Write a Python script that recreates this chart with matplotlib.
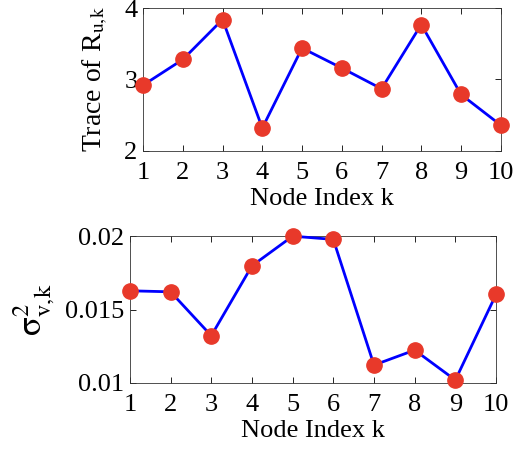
import matplotlib
matplotlib.use("Agg")
import matplotlib.pyplot as plt

nodes = [1, 2, 3, 4, 5, 6, 7, 8, 9, 10]
trace_ru = [2.92, 3.28, 3.84, 2.32, 3.44, 3.16, 2.87, 3.77, 2.79, 2.36]
sigma_v = [0.01628, 0.01621, 0.01322, 0.01798, 0.0200, 0.01978, 0.01122, 0.01224, 0.0102, 0.01603]

plt.rcParams['font.family'] = ['Liberation Serif', 'DejaVu Serif']
plt.rcParams['mathtext.fontset'] = 'stix'

fig = plt.figure(figsize=(5.26, 4.49), dpi=100)
ax1 = fig.add_axes([0.272, 0.664, 0.680, 0.318])
ax2 = fig.add_axes([0.247, 0.147, 0.696, 0.327])

line_kw = dict(color='#0000ff', linewidth=2.0, marker='o', markersize=11,
               markerfacecolor='#e8392a', markeredgecolor='#e8392a', clip_on=False, zorder=3)

ax1.plot(nodes, trace_ru, **line_kw)
ax1.set_xlim(1, 10)
ax1.set_ylim(2, 4)
ax1.set_yticks([2, 3, 4])
ax1.set_xticks(nodes)
ax1.set_xlabel('Node Index k', fontsize=19, labelpad=3)
ax1.set_ylabel(r'Trace of R$_{\mathrm{u},\!\mathrm{k}}$', fontsize=20, labelpad=10)

ax2.plot(nodes, sigma_v, **line_kw)
ax2.set_xlim(1, 10)
ax2.set_ylim(0.01, 0.02)
ax2.set_yticks([0.01, 0.015, 0.02])
ax2.set_yticklabels(['0.01', '0.015', '0.02'])
ax2.set_xticks(nodes)
ax2.set_xlabel('Node Index k', fontsize=19, labelpad=3)
ax2.set_ylabel(r'$\mathrm{\sigma}^2_{\mathrm{v},\!\mathrm{k}}$', fontsize=25, labelpad=6)

for ax in (ax1, ax2):
    ax.tick_params(direction='in', top=True, right=True, labelsize=19, length=4, width=0.6)
    ax.tick_params(axis='x', pad=8)
    ax.tick_params(axis='y', pad=4)
    for s in ax.spines.values():
        s.set_linewidth(0.6)
        s.set_color('#333333')

fig.savefig('out.png', dpi=100)
